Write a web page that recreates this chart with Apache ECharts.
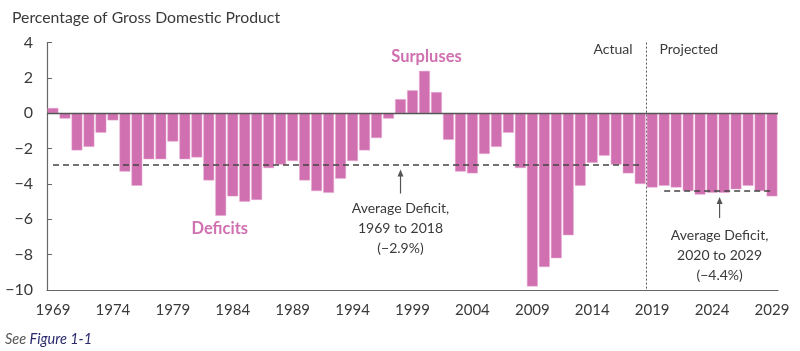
<!DOCTYPE html>
<html lang="en">
<head>
<meta charset="UTF-8">
<title>Deficits and Surpluses</title>
<script src="https://cdn.jsdelivr.net/npm/echarts@6.0.0/dist/echarts.min.js"></script>
<style>
  html, body { margin: 0; padding: 0; background: #fff; }
  #chart { width: 800px; height: 351px; }
</style>
</head>
<body>
<div id="chart"></div>
<script>
// years on the x axis
var years = ['1969','1970','1971','1972','1973','1974','1975','1976','1977','1978',
  '1979','1980','1981','1982','1983','1984','1985','1986','1987','1988',
  '1989','1990','1991','1992','1993','1994','1995','1996','1997','1998',
  '1999','2000','2001','2002','2003','2004','2005','2006','2007','2008',
  '2009','2010','2011','2012','2013','2014','2015','2016','2017','2018',
  '2019','2020','2021','2022','2023','2024','2025','2026','2027','2028','2029'];

// surplus (+) / deficit (-), percent of GDP
var balance = [0.3, -0.3, -2.1, -1.9, -1.1, -0.4, -3.3, -4.1, -2.6, -2.6,
  -1.6, -2.6, -2.5, -3.8, -5.8, -4.7, -5.0, -4.9, -3.1, -2.9,
  -2.7, -3.8, -4.4, -4.5, -3.7, -2.7, -2.1, -1.4, -0.3, 0.8,
  1.3, 2.4, 1.2, -1.5, -3.3, -3.4, -2.3, -1.9, -1.1, -3.1,
  -9.8, -8.7, -8.2, -6.9, -4.1, -2.8, -2.4, -2.9, -3.4, -4.0,
  -4.2, -4.1, -4.2, -4.4, -4.6, -4.5, -4.5, -4.3, -4.1, -4.4, -4.7];

// averages
var avgActual = -2.9;     // 1969 to 2018
var avgProjected = -4.4;  // 2020 to 2029

var yTicks = { min: -10, max: 4, interval: 2 };

var FONT = 'Lato, "Open Sans", sans-serif';
var PINK = '#d070b0';
var INK = '#3a3a3a';

var chart = echarts.init(document.getElementById('chart'));

function minus(v) { return String(v).replace('-', '\u2212'); }

var option = {
  animation: false,
  textStyle: { fontFamily: FONT },
  title: {
    text: 'Percentage of Gross Domestic Product',
    left: 7, top: 5,
    textStyle: { fontFamily: FONT, fontSize: 15.8, fontWeight: 'normal', color: INK }
  },
  grid: { left: 47, right: 22, top: 42.6, bottom: 61 },
  xAxis: {
    type: 'category',
    data: years,
    boundaryGap: true,
    axisLine: { onZero: false, lineStyle: { color: '#666', width: 1.2 } },
    axisTick: { inside: true, length: 5, alignWithLabel: true, interval: 4, lineStyle: { color: '#666' } },
    axisLabel: { interval: 4, fontSize: 15, color: INK, margin: 13, fontFamily: FONT }
  },
  yAxis: {
    type: 'value',
    min: yTicks.min, max: yTicks.max, interval: yTicks.interval,
    axisLine: { show: true, lineStyle: { color: '#666', width: 1.2 } },
    axisTick: { show: true, inside: true, length: 5, lineStyle: { color: '#666' } },
    splitLine: { show: false },
    axisLabel: { fontSize: 16, color: INK, margin: 14, fontFamily: FONT, formatter: minus }
  },
  series: [{
    type: 'bar',
    data: balance,
    barCategoryGap: '10%',
    itemStyle: { color: PINK, borderColor: '#e6a8d2', borderWidth: 0.5 },
    markLine: {
      silent: true,
      symbol: 'none',
      label: { show: false },
      data: [
        { yAxis: 0, lineStyle: { color: '#555', width: 1.3, type: 'solid' } },
        [{ coord: ['1969', avgActual] }, { coord: ['2018', avgActual] }],
        [{ coord: ['2020', avgProjected] }, { coord: ['2029', avgProjected] }]
      ],
      lineStyle: { color: '#444', width: 1.5, type: [6, 4] }
    }
  }]
};
chart.setOption(option);

// annotations placed from the chart's own scales
var topY = chart.convertToPixel({ yAxisIndex: 0 }, yTicks.max);
var botY = chart.convertToPixel({ yAxisIndex: 0 }, yTicks.min);
var x2018 = chart.convertToPixel({ xAxisIndex: 0 }, '2018');
var x2019 = chart.convertToPixel({ xAxisIndex: 0 }, '2019');
var splitX = Math.round((x2018 + x2019) / 2) + 0.5;
var x1998 = chart.convertToPixel({ xAxisIndex: 0 }, '1998');
var x2024 = chart.convertToPixel({ xAxisIndex: 0 }, '2024');
var x2025 = chart.convertToPixel({ xAxisIndex: 0 }, '2025');
var xProj = (x2024 + x2025) / 2 + 1.5;
var yAvgA = chart.convertToPixel({ yAxisIndex: 0 }, avgActual);
var yAvgP = chart.convertToPixel({ yAxisIndex: 0 }, avgProjected);
var x2000 = chart.convertToPixel({ xAxisIndex: 0 }, '2000');
var x1983 = chart.convertToPixel({ xAxisIndex: 0 }, '1983');

function arrow(x, y1, y2) {
  return [
    { type: 'line', shape: { x1: x, y1: y1 + 4, x2: x, y2: y2 }, style: { stroke: '#555', lineWidth: 1.2 } },
    { type: 'polygon', shape: { points: [[x, y1], [x - 3, y1 + 7], [x + 3, y1 + 7]] }, style: { fill: '#555' } }
  ];
}

function note(x, y, lines) {
  return {
    type: 'text', x: x, y: y,
    style: { text: lines.join('\n'), fontFamily: FONT, fontSize: 14, lineHeight: 20,
      fill: INK, align: 'center', verticalAlign: 'top' }
  };
}

var gfx = [
  { type: 'line', shape: { x1: splitX, y1: topY, x2: splitX, y2: botY },
    style: { stroke: '#555', lineWidth: 1, lineDash: [2, 2] } },
  { type: 'text', x: splitX - 14, y: topY + 7,
    style: { text: 'Actual', fontFamily: FONT, fontSize: 14, fill: INK, align: 'right', verticalAlign: 'middle' } },
  { type: 'text', x: splitX + 13, y: topY + 7,
    style: { text: 'Projected', fontFamily: FONT, fontSize: 14, fill: INK, align: 'left', verticalAlign: 'middle' } },
  { type: 'text', x: x2000 + 2, y: 57,
    style: { text: 'Surpluses', fontFamily: FONT, fontSize: 16.5, fontWeight: 'bold', fill: PINK, align: 'center', verticalAlign: 'middle' } },
  { type: 'text', x: x1983 - 1, y: 229,
    style: { text: 'Deficits', fontFamily: FONT, fontSize: 16.5, fontWeight: 'bold', fill: PINK, align: 'center', verticalAlign: 'middle' } },
  note(x1998, yAvgA + 34, ['Average Deficit,', '1969 to 2018', '(\u22122.9%)']),
  note(xProj, yAvgP + 34, ['Average Deficit,', '2020 to 2029', '(\u22124.4%)']),
  { type: 'text', x: 5, y: 339,
    style: { rich: { a: { fill: '#555', fontStyle: 'italic', fontSize: 14.5, fontFamily: FONT },
      b: { fill: '#2a2a6e', fontStyle: 'italic', fontSize: 14.5, fontFamily: FONT } },
      text: '{a|See }{b|Figure 1-1}', verticalAlign: 'middle' } }
].concat(arrow(x1998, yAvgA + 5, yAvgA + 29), arrow(xProj, yAvgP + 6, yAvgP + 27));

chart.setOption({ graphic: gfx });
</script>
</body>
</html>
